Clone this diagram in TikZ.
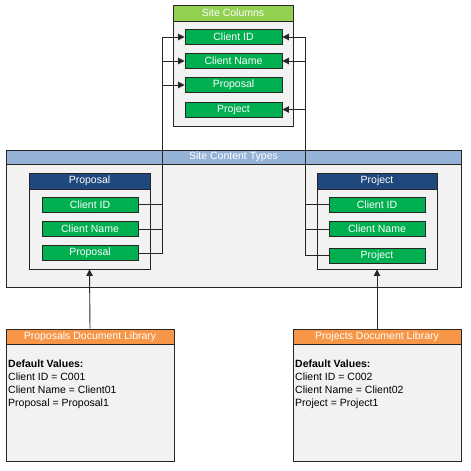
\documentclass[tikz,border=0pt]{standalone}
\usepackage{fontspec}
\setmainfont{Liberation Sans}
\usetikzlibrary{arrows.meta}
\definecolor{bodygray}{HTML}{F2F2F2}
\definecolor{scgreen}{HTML}{92D050}
\definecolor{fgreen}{HTML}{00B050}
\definecolor{ctblue}{HTML}{95B3D7}
\definecolor{dblue}{HTML}{1F497D}
\definecolor{liborange}{HTML}{F79646}
\definecolor{edge}{HTML}{262626}
\tikzset{
  panel/.style={draw=edge, line width=0.9pt, fill=bodygray, inner sep=0pt},
  hdr/.style={draw=edge, line width=0.9pt, fill=#1, text=white, inner sep=0pt, font=\fontsize{10.5}{12}\selectfont},
  field/.style={draw=edge, line width=0.9pt, fill=fgreen, text=white, inner sep=0pt,
    minimum width=96pt, minimum height=15pt, font=\fontsize{10.5}{12}\selectfont},
  link/.style={draw=edge, line width=0.9pt},
  arr/.style={link, -{Triangle[length=6.5pt,width=6.5pt]}},
  txt/.style={font=\fontsize{10.5}{13}\selectfont, align=left, inner sep=0pt, anchor=north west}
}
\begin{document}
\begin{tikzpicture}[x=1pt,y=-1pt]
\useasboundingbox (0,0) rectangle (471,471);
% Site Columns
\node[panel, minimum width=120pt, minimum height=121pt] (sc) at (233,65.5) {};
\node[hdr=scgreen, minimum width=120pt, minimum height=16pt] (sch) at (233,13) {Site Columns};
\node[field, minimum width=97pt] (scid) at (233.5,37) {Client ID};
\node[field, minimum width=97pt] (scname) at (233.5,61) {Client Name};
\node[field, minimum width=97pt] (scprop) at (233.5,85) {Proposal};
\node[field, minimum width=97pt] (scproj) at (233.5,109.5) {Project};
% Site Content Types
\node[panel, minimum width=455pt, minimum height=137pt] (ct) at (233.5,218.5) {};
\node[hdr=ctblue, minimum width=455pt, minimum height=14pt] (cth) at (233.5,157) {Site Content Types};
% Proposal content type
\node[panel, minimum width=121pt, minimum height=96pt] (pct) at (89.5,221) {};
\node[hdr=dblue, minimum width=121pt, minimum height=16pt] (pcth) at (89.5,181) {Proposal};
\node[field] (pid) at (90,204.5) {Client ID};
\node[field] (pname) at (90,229) {Client Name};
\node[field] (pprop) at (90,253) {Proposal};
% Project content type
\node[panel, minimum width=120pt, minimum height=96pt] (jct) at (377,221) {};
\node[hdr=dblue, minimum width=120pt, minimum height=16pt] (jcth) at (377,181) {Project};
\node[field] (jid) at (377,204.5) {Client ID};
\node[field] (jname) at (377,229) {Client Name};
\node[field] (jproj) at (377,255.5) {Project};
% Libraries
\node[panel, minimum width=168pt, minimum height=132pt] (plib) at (90,395) {};
\node[hdr=liborange, minimum width=168pt, minimum height=15pt] (plibh) at (90,336.5) {Proposals Document Library};
\node[txt] (ptxt) at (8,360) {\textbf{Default Values:}\\Client ID = C001\\Client Name = Client01\\Proposal = Proposal1};
\node[panel, minimum width=168pt, minimum height=132pt] (jlib) at (377,395) {};
\node[hdr=liborange, minimum width=168pt, minimum height=15pt] (jlibh) at (377,336.5) {Projects Document Library};
\node[txt] (jtxt) at (295,360) {\textbf{Default Values:}\\Client ID = C002\\Client Name = Client02\\Project = Project1};
% bus coordinates
\coordinate (lbus) at (162,0);
\coordinate (rbus) at (305.5,0);
% connectors left
\draw[arr] (pid.east) -- (pid.east -| lbus) |- (scid.west);
\draw[arr] (pname.east) -- (pname.east -| lbus) |- (scname.west);
\draw[arr] (pprop.east) -- (pprop.east -| lbus) |- (scprop.west);
% connectors right
\draw[arr] (jid.west) -- (jid.west -| rbus) |- (scid.east);
\draw[arr] (jname.west) -- (jname.west -| rbus) |- (scname.east);
\draw[arr] (jproj.west) -- (jproj.west -| rbus) |- (scproj.east);
% library to content type
\draw[arr] (plibh.north) -- (pct.south);
\draw[arr] (jlibh.north) -- (jct.south);
\end{tikzpicture}
\end{document}
